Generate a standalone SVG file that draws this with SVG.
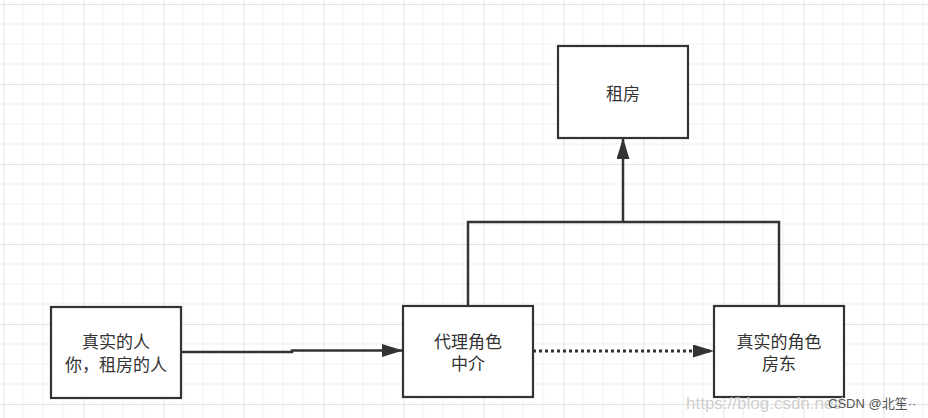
<svg xmlns="http://www.w3.org/2000/svg" width="928" height="418" viewBox="0 0 928 418">
  <defs>
    <pattern id="grid" patternUnits="userSpaceOnUse" x="3.3" y="4" width="80" height="80">
      <path d="M20 0V80M40 0V80M60 0V80M0 20H80M0 40H80M0 60H80" stroke="#efefef" stroke-width="1" fill="none"/>
      <path d="M0.5 0V80M0 0.5H80" stroke="#e2e2e2" stroke-width="1" fill="none"/>
    </pattern>
    <marker id="arrow" markerUnits="userSpaceOnUse" viewBox="0 0 21 13" markerWidth="21" markerHeight="13" refX="21" refY="6.5" orient="auto">
      <path d="M0 0L21 6.5L0 13Z" fill="#333333"/>
    </marker>
  </defs>
  <style>
    .box { fill: #ffffff; stroke: #333333; stroke-width: 2.2; }
    .label { font-family: "Noto Sans CJK SC", "Microsoft YaHei", sans-serif; font-size: 17px; fill: #333333; text-anchor: middle; }
    .conn { fill: none; stroke: #333333; stroke-width: 2.5; }
    .dotted { stroke-dasharray: 3 3; stroke-width: 3; }
    .wm { font-family: "Liberation Sans", Arial, sans-serif; fill: #cfcfcf; font-size: 17px; }
    .csdn { font-family: "Liberation Sans", "Noto Sans CJK SC", sans-serif; fill: #555555; font-size: 13px; }
  </style>
  <rect x="0" y="0" width="928" height="418" fill="#ffffff"/>
  <rect x="0" y="0" width="928" height="418" fill="url(#grid)"/>

  <g id="connectors">
    <path class="conn" d="M468 306V222H779V306"/>
    <path class="conn" d="M623 222V138" marker-end="url(#arrow)"/>
    <path class="conn" d="M181 352H292V350.5H403" marker-end="url(#arrow)"/>
    <path class="conn dotted" d="M533 351H714" marker-end="url(#arrow)"/>
  </g>

  <g id="rent">
    <rect class="box" x="558" y="46" width="130" height="92"/>
    <text class="label" x="623" y="100">租房</text>
  </g>
  <g id="real-person">
    <rect class="box" x="51" y="307" width="130" height="91"/>
    <text class="label" x="116" y="348">真实的人</text>
    <text class="label" x="116" y="371">你，租房的人</text>
  </g>
  <g id="proxy">
    <rect class="box" x="403" y="306" width="130" height="91"/>
    <text class="label" x="468" y="348">代理角色</text>
    <text class="label" x="468" y="370">中介</text>
  </g>
  <g id="landlord">
    <rect class="box" x="714" y="306" width="130" height="91"/>
    <text class="label" x="779" y="348">真实的角色</text>
    <text class="label" x="779" y="370">房东</text>
  </g>

  <text class="wm" x="686" y="409">https://blog.csdn.net/</text>
  <text class="csdn" x="828" y="408">CSDN @北笙··</text>
</svg>
